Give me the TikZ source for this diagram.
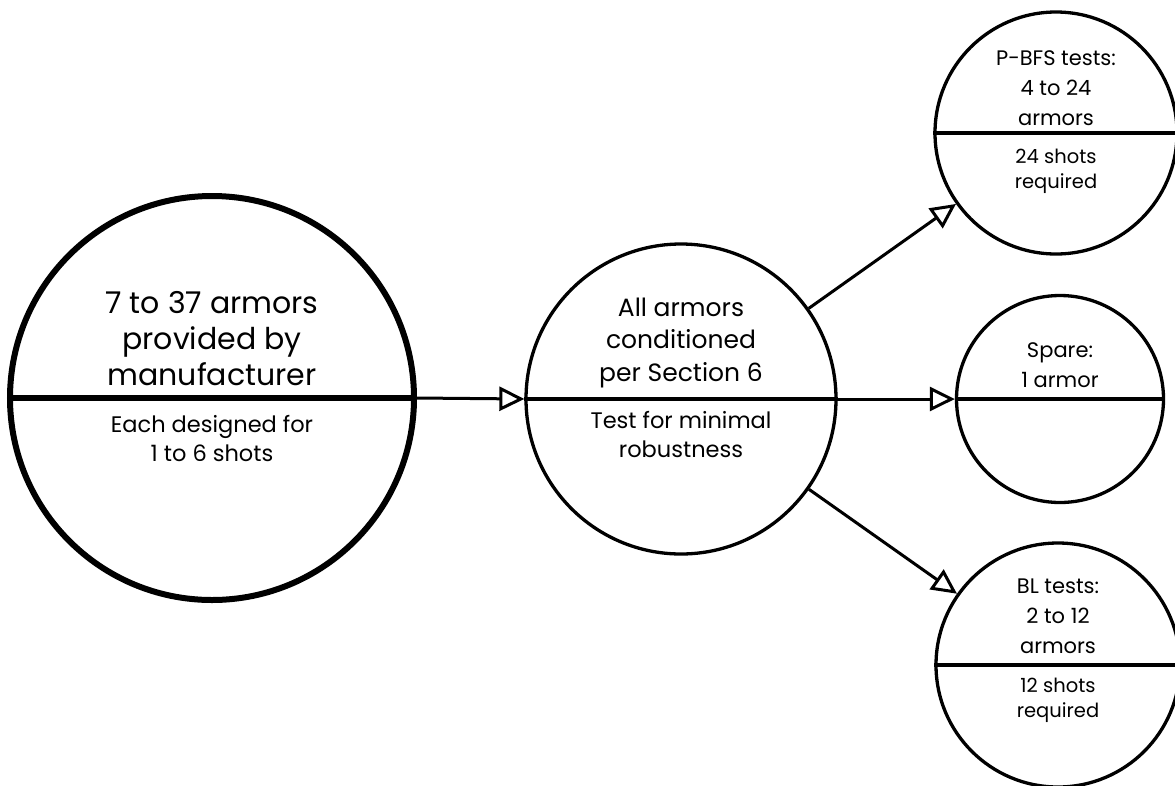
\documentclass[tikz,border=0pt]{standalone}
\usepackage{fontspec}
\setmainfont{Poppins}
\usetikzlibrary{positioning,arrows.meta}

\begin{document}
\begin{tikzpicture}[x=1pt, y=-1pt,
		disc/.style={circle, draw, line width=3.3pt, inner sep=0pt},
		split/.style={line width=3.3pt},
		arr/.style={line width=3pt, -{Triangle[open, length=25pt, width=24pt]}},
		txt/.style={align=center, inner sep=0pt},
		hugefont/.style={font=\fontsize{30}{36}\selectfont},
		largefont/.style={font=\fontsize{25}{32.5}\selectfont},
		midfont/.style={font=\fontsize{22.5}{29}\selectfont},
		smallfont/.style={font=\fontsize{21}{30}\selectfont},
		tinyfont/.style={font=\fontsize{19.5}{24.5}\selectfont}
		]
	\useasboundingbox (0,0) rectangle (1175,785);

	% circles
	\node [disc, line width=6pt, minimum size=404pt] (supply) at (212,398) {};
	\node [disc, minimum size=310pt] (cond) at (681,399) {};
	\node [disc, minimum size=242pt] (pbfs) at (1056,133) {};
	\node [disc, minimum size=207pt] (spare) at (1060,399) {};
	\node [disc, minimum size=244pt] (bl) at (1058,665) {};

	\draw [split, line width=5.5pt] (supply.west) -- (supply.east);
	\foreach \n in {cond,pbfs,spare,bl}
		\draw [split] (\n.west) -- (\n.east);

	% texts
	\node [txt, hugefont, above=12pt of supply.center] (supplyup) {7 to 37 armors\\provided by\\manufacturer};
	\node [txt, midfont, below=17pt of supply.center] (supplylow) {Each designed for\\1 to 6 shots};
	\node [txt, largefont, above=11pt of cond.center] (condup) {All armors\\conditioned\\per Section 6};
	\node [txt, midfont, below=12pt of cond.center] (condlow) {Test for minimal\\robustness};
	\node [txt, smallfont, above=7pt of pbfs.center] (pbfsup) {P-BFS tests:\\4 to 24\\armors};
	\node [txt, tinyfont, below=16pt of pbfs.center] (pbfslow) {24 shots\\required};
	\node [txt, smallfont, above=11pt of spare.center] (spareup) {Spare:\\1 armor};
	\node [txt, smallfont, above=11pt of bl.center] (blup) {BL tests:\\2 to 12\\armors};
	\node [txt, tinyfont, below=13pt of bl.center] (bllow) {12 shots\\required};

	% arrows
	\draw [arr] (supply.east) -- (cond.west);
	\draw [arr] (cond) -- (pbfs);
	\draw [arr] (cond.east) -- (spare.west);
	\draw [arr] (cond) -- (bl);
\end{tikzpicture}
\end{document}
